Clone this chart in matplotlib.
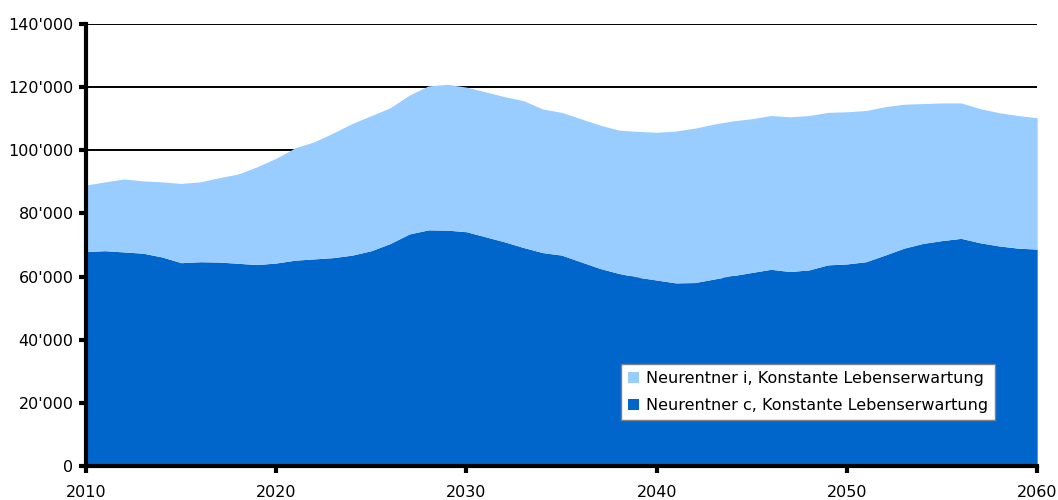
import matplotlib
matplotlib.use("Agg")
import matplotlib.pyplot as plt
from matplotlib.ticker import FuncFormatter

years = list(range(2010, 2061))

# Neurentner c (lower band), thousands
neu_c = [67.9, 68.2, 67.8, 67.4, 66.2, 64.4, 64.7, 64.6, 64.2, 63.8,
         64.3, 65.2, 65.6, 66.0, 66.8, 68.2, 70.5, 73.5, 74.8, 74.7,
         74.2, 72.6, 71.0, 69.2, 67.6, 66.8, 64.7, 62.6, 61.0, 59.8,
         58.9, 58.0, 58.1, 59.2, 60.3, 61.3, 62.3, 61.6, 62.1, 63.7,
         64.0, 64.7, 66.8, 69.0, 70.5, 71.4, 72.1, 70.7, 69.7, 69.0,
         68.7]

# Neurentner i (stacked on top), thousands
neu_i = [21.1, 21.8, 23.1, 22.9, 23.8, 25.1, 25.3, 26.7, 28.3, 31.0,
         33.2, 35.6, 37.1, 39.5, 41.7, 42.8, 43.0, 44.0, 45.6, 46.2,
         45.8, 45.9, 46.0, 46.5, 45.5, 45.2, 45.3, 45.4, 45.4, 46.2,
         46.8, 48.1, 48.9, 49.1, 49.0, 48.7, 48.7, 49.0, 48.9, 48.3,
         48.2, 47.9, 47.0, 45.6, 44.3, 43.6, 42.9, 42.5, 42.2, 42.0,
         41.6]

labels = ["Neurentner i, Konstante Lebenserwartung",
          "Neurentner c, Konstante Lebenserwartung"]

c_vals = [v * 1000 for v in neu_c]
i_vals = [v * 1000 for v in neu_i]
top = [a + b for a, b in zip(c_vals, i_vals)]

plt.rcParams["font.family"] = ["DejaVu Sans"]

fig = plt.figure(figsize=(10.58, 5.0), dpi=100)
ax = fig.add_axes([0.0813, 0.068, 0.8990, 0.884])

ax.fill_between(years, 0, c_vals, color="#0066CC", lw=0, zorder=3, label=labels[1])
ax.fill_between(years, c_vals, top, color="#99CCFF", lw=0, zorder=3, label=labels[0])

ax.set_xlim(2010, 2060)
ax.set_ylim(0, 140000)
ax.set_xticks(range(2010, 2061, 10))
ax.set_yticks(range(0, 140001, 20000))
ax.yaxis.set_major_formatter(FuncFormatter(lambda v, p: f"{int(v):,}".replace(",", "'")))

ax.grid(axis="y", color="black", lw=1.4, zorder=1)
ax.set_axisbelow(True)

for s in ["top", "right"]:
    ax.spines[s].set_visible(False)
for s in ["left", "bottom"]:
    ax.spines[s].set_linewidth(3)
    ax.spines[s].set_zorder(5)

ax.tick_params(axis="both", direction="out", length=5, width=3, labelsize=11.5, colors="black")
ax.tick_params(axis="x", pad=9)
ax.tick_params(axis="y", pad=4)

handles, labs = ax.get_legend_handles_labels()
leg = ax.legend(handles[::-1], labs[::-1], loc="lower left",
                bbox_to_anchor=(0.5626, 0.104), borderaxespad=0,
                fontsize=11.5, frameon=True, fancybox=False, framealpha=1,
                facecolor="white", edgecolor="#808080",
                handlelength=0.7, handleheight=0.7,
                handletextpad=0.4, labelspacing=0.75, borderpad=0.45)
leg.get_frame().set_linewidth(1.0)
leg.set_zorder(6)

fig.savefig("out.png", dpi=100)
